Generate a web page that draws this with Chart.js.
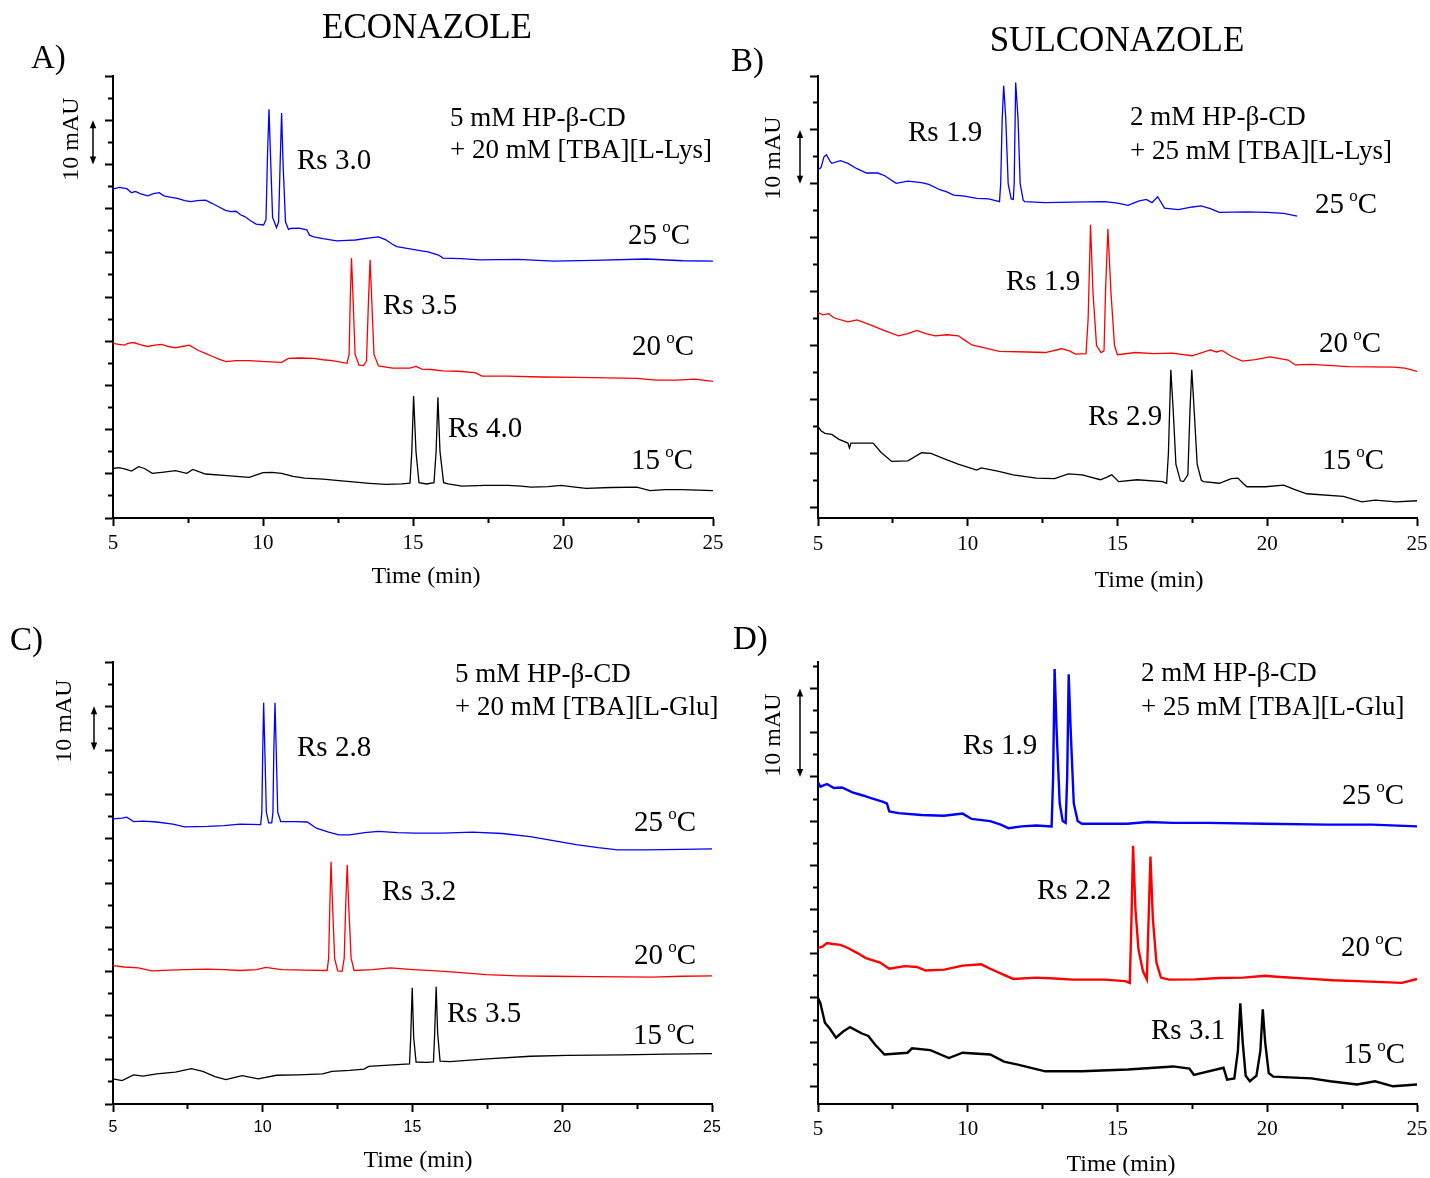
<!DOCTYPE html>
<html><head><meta charset="utf-8">
<script src="https://cdn.jsdelivr.net/npm/chart.js@4"></script>
<style>
html,body{margin:0;padding:0;background:#fff;}
#wrap{position:relative;width:1430px;height:1178px;overflow:hidden;background:#fff;}
canvas{position:absolute;}
</style></head><body>
<div id="wrap">
<canvas id="cA" width="730" height="600" style="left:0px;top:0px"></canvas>
<canvas id="cB" width="730" height="600" style="left:705px;top:0px"></canvas>
<canvas id="cC" width="730" height="600" style="left:0px;top:586px"></canvas>
<canvas id="cD" width="730" height="600" style="left:705px;top:586px"></canvas>
</div>
<script>
// ---------- tick values ----------
const xTicks = [5,7.5,10,12.5,15,17.5,20,22.5,25];
const yTicks100 = [0,5,10,15,20,25,30,35,40,45,50,55,60,65,70,75,80,85,90,95,100];
const yTicks80 = [0,5,10,15,20,25,30,35,40,45,50,55,60,65,70,75,80];
const yTicks48 = [0,2.5,5,7.5,10,12.5,15,17.5,20,22.5,25,27.5,30,32.5,35,37.5,40,42.5,45,47.5];
const xTitle = 'Time (min)';

// ---------- A) Econazole, [TBA][L-Lys] ----------
const econLys25 = [[5,74.4],[5.2,74.8],[5.46,74.5],[5.62,73.6],[5.75,73.9],[5.9,73.4],[6.16,72.9],[6.35,73.4],[6.54,73.6],[6.7,72.9],[6.9,72.6],[7.15,72.3],[7.39,71.8],[7.6,71.6],[7.8,71.8],[8.08,71.9],[8.3,71.2],[8.55,70.3],[8.75,69.6],[8.93,69.3],[9.1,69.4],[9.25,68.6],[9.39,68.2],[9.6,67.2],[9.77,66.5],[10.02,66.3],[10.1,67.5],[10.15,82],[10.2,92.5],[10.25,82],[10.32,68],[10.45,65.7],[10.52,67],[10.57,80],[10.62,91.6],[10.67,80],[10.75,67],[10.85,65.3],[10.92,65.5],[11.2,65.6],[11.46,65.2],[11.55,64.0],[11.69,63.6],[12.0,63.2],[12.46,62.7],[12.8,62.8],[13.08,62.9],[13.5,63.3],[13.85,63.6],[14.08,63.0],[14.3,62.0],[14.46,61.4],[14.8,61.0],[15.23,60.5],[15.5,60.2],[15.85,59.5],[16.0,58.8],[16.6,58.7],[17.23,58.4],[18.5,58.5],[19.69,58.1],[21.0,58.3],[22.77,58.6],[24.0,58.2],[25,58.1]];
const econLys20 = [[5,39.5],[5.2,39.3],[5.38,39.1],[5.5,39.5],[5.69,39.7],[5.9,39.2],[6.16,38.8],[6.4,39.1],[6.62,39.3],[6.85,38.8],[7.08,38.5],[7.3,38.8],[7.54,39.1],[7.85,37.9],[8.1,37.2],[8.3,36.6],[8.55,35.9],[8.77,35.4],[9.1,35.6],[9.54,35.6],[10.1,35.4],[10.62,35.2],[10.85,36.1],[11.2,36.2],[11.69,36.1],[12.0,35.8],[12.31,35.6],[12.8,35.0],[12.87,37],[12.91,50],[12.95,58.8],[13.0,50],[13.07,37],[13.2,34.6],[13.35,34.5],[13.45,35.5],[13.52,50],[13.57,58.4],[13.62,50],[13.7,37],[13.85,34.4],[14.31,33.9],[14.9,33.9],[15.1,34.3],[15.3,33.7],[15.6,33.6],[16.0,33.3],[16.5,33.2],[17.07,32.9],[17.3,32.1],[18.14,32.1],[19.3,31.9],[20.46,31.8],[21.5,31.7],[22.46,31.6],[23.1,31.2],[23.8,31.2],[24.4,31.4],[25,30.9]];
const econLys15 = [[5,11.2],[5.2,11.4],[5.38,11.1],[5.62,10.6],[5.85,11.6],[6.05,11.2],[6.31,10.1],[6.7,10.4],[7.08,10.7],[7.46,10.1],[7.66,11.0],[8.08,9.95],[8.8,9.6],[9.54,9.2],[10.0,10.25],[10.3,10.3],[10.62,10.1],[11.0,9.4],[11.39,9.0],[12.0,8.8],[12.62,8.4],[13.1,8.1],[13.54,7.85],[14.1,7.6],[14.62,7.7],[14.9,7.9],[14.96,15],[15.02,27.6],[15.1,15],[15.2,8],[15.45,7.7],[15.7,8],[15.77,15],[15.83,27.3],[15.9,15],[16.02,8],[16.17,7.7],[16.63,7.2],[17.4,7.4],[18.17,7.4],[18.6,7.2],[18.94,7.0],[19.5,7.1],[19.93,7.4],[20.4,7.0],[20.77,6.7],[21.6,6.9],[22.46,7.0],[22.9,6.2],[23.4,6.4],[23.97,6.4],[24.5,6.3],[25,6.2]];

// ---------- B) Sulconazole, [TBA][L-Lys] ----------
const sulcLys25 = [[5,62.6],[5.1,63],[5.2,65.0],[5.28,65.4],[5.4,64.2],[5.46,63.8],[5.75,64.3],[6.0,63.8],[6.3,62.8],[6.62,62.0],[7.0,62.0],[7.23,61.5],[7.61,60.1],[8.0,60.5],[8.45,60.2],[8.7,59.9],[9.07,58.9],[9.3,58.5],[9.53,57.9],[9.9,57.7],[10.3,57.3],[10.7,57.2],[11.06,56.7],[11.1,60],[11.15,72],[11.2,78.2],[11.27,72],[11.35,60],[11.45,57.2],[11.52,57.1],[11.55,60],[11.6,78.8],[11.68,72],[11.75,60],[11.85,57],[11.9,56.7],[12.59,56.5],[13.5,56.6],[14.58,56.7],[15.0,56.4],[15.35,56.0],[15.7,56.8],[15.96,57.1],[16.15,56.5],[16.34,57.6],[16.57,55.5],[17.03,55.2],[17.5,55.7],[17.79,55.9],[18.1,55.4],[18.4,54.7],[19.32,54.8],[20.0,54.7],[20.55,54.5],[21.0,54.0]];
const sulcLys20 = [[5,36.1],[5.17,35.7],[5.35,35.9],[5.55,35.1],[6.0,34.4],[6.3,34.75],[6.77,33.8],[7.2,32.8],[7.69,31.8],[8.0,32.2],[8.3,32.8],[8.6,32.2],[8.92,31.8],[9.3,32.0],[9.69,31.8],[9.9,31.0],[10.14,30.1],[10.6,29.5],[11.06,28.9],[12.0,28.8],[12.59,28.7],[13.13,29.4],[13.4,29.0],[13.59,28.4],[13.95,28.5],[14.02,35],[14.1,52.4],[14.18,40],[14.3,30],[14.45,28.7],[14.55,29],[14.6,40],[14.68,51.6],[14.78,40],[14.9,30],[15.0,28.3],[15.6,28.7],[16.2,28.5],[16.83,28.6],[17.49,28.1],[18.1,29.2],[18.3,28.8],[18.49,29.1],[18.8,28.0],[19.17,27.1],[19.6,27.4],[20.09,27.9],[20.7,27.3],[20.94,26.4],[21.47,26.5],[22.7,26.1],[24.2,26.0],[24.6,25.8],[25,25.2]];
const sulcLys15 = [[5,15.0],[5.1,14.2],[5.23,13.7],[5.46,13.5],[5.7,12.6],[6.0,11.9],[6.05,11.0],[6.1,11.9],[6.3,11.9],[6.84,11.9],[7.1,10.2],[7.46,8.5],[8.0,8.6],[8.46,10.1],[8.77,10.0],[9.2,9.0],[9.68,8.0],[10.3,6.9],[10.45,7.3],[11.0,6.7],[11.52,6.0],[12.29,5.4],[12.9,5.3],[13.36,6.2],[13.82,6.0],[14.43,5.1],[14.65,5.6],[14.81,6.0],[15.04,4.75],[15.66,5.1],[16.5,4.75],[16.64,4.45],[16.7,10],[16.78,25.5],[16.86,18],[16.95,8],[17.1,4.9],[17.2,4.75],[17.35,6],[17.42,18],[17.48,25.5],[17.56,18],[17.66,8],[17.8,5],[17.87,4.75],[18.4,4.45],[18.8,5.3],[19.02,5.4],[19.2,4.4],[19.32,3.8],[19.94,3.8],[20.55,4.1],[20.9,3.3],[21.32,2.5],[22.54,2.0],[23.16,1.0],[23.6,1.3],[24.3,1.0],[25,1.2]];

// ---------- C) Econazole, [TBA][L-Glu] ----------
const econGlu25 = [[5,64.5],[5.3,64.7],[5.46,64.9],[5.69,63.9],[6.0,64.0],[6.46,63.8],[7.0,63.3],[7.39,62.7],[8.16,62.8],[8.7,63.0],[9.24,63.3],[9.93,63.2],[9.97,66],[10.0,80],[10.03,90.8],[10.07,80],[10.12,66],[10.2,63.6],[10.3,63.6],[10.34,66],[10.37,80],[10.41,90.8],[10.45,80],[10.5,66],[10.6,63.9],[11.1,63.9],[11.49,63.8],[11.79,62.4],[12.2,61.5],[12.54,60.9],[12.9,60.9],[13.4,61.4],[13.86,61.7],[14.5,61.4],[15.09,61.3],[16.0,61.3],[17.0,61.5],[18.0,61.2],[18.93,60.5],[19.7,59.6],[20.46,58.7],[21.2,58.0],[21.85,57.5],[22.77,57.5],[24.0,57.6],[25,57.7]];
const econGlu20 = [[5,31.3],[5.38,31.0],[5.85,30.8],[6.3,30.1],[6.9,30.3],[7.39,30.4],[8.16,30.5],[8.7,30.4],[9.24,30.2],[9.8,30.4],[10.1,30.9],[10.63,30.4],[11.4,30.3],[12.15,30.2],[12.2,33],[12.24,45],[12.28,54.8],[12.33,45],[12.4,33],[12.5,30.1],[12.65,30.0],[12.72,33],[12.77,45],[12.82,54.1],[12.87,45],[12.95,33],[13.05,30.2],[13.66,30.4],[14.26,30.8],[15.03,30.4],[15.8,30.1],[16.52,29.8],[17.46,29.25],[18.5,29.0],[19.6,28.9],[21.1,28.8],[23,28.7],[24.0,28.9],[25,29.0]];
const econGlu15 = [[5,5.7],[5.3,5.3],[5.69,6.6],[6.0,6.3],[6.46,6.8],[7.08,7.2],[7.62,8.0],[8.0,7.4],[8.4,6.2],[8.77,5.5],[9.31,6.4],[9.85,5.7],[10.46,6.5],[11.2,6.6],[12.0,6.8],[12.31,7.4],[12.9,7.6],[13.38,7.9],[13.54,8.5],[14.2,8.8],[14.9,9.1],[14.94,15],[14.99,26.3],[15.04,15],[15.12,9.5],[15.46,9.4],[15.7,9.5],[15.74,16],[15.79,26.5],[15.84,16],[15.92,9.7],[16.25,9.6],[17.5,10.2],[18.94,10.8],[20.17,11.0],[22.0,11.1],[23.5,11.3],[25,11.4]];

// ---------- D) Sulconazole, [TBA][L-Glu] ----------
const sulcGlu25 = [[5,34.4],[5.08,33.9],[5.3,34.2],[5.53,33.75],[5.8,33.8],[6.15,33.25],[6.5,32.9],[6.77,32.6],[7.15,32.2],[7.3,32.0],[7.38,31.1],[7.69,30.9],[8.45,30.7],[9.2,30.6],[9.83,30.85],[10.13,30.25],[10.75,30.0],[11.1,29.6],[11.36,29.2],[11.8,29.4],[12.28,29.5],[12.8,29.4],[12.85,35],[12.9,47.2],[12.97,40],[13.07,32],[13.17,30],[13.27,29.8],[13.32,35],[13.37,46.6],[13.44,40],[13.54,32],[13.67,30],[13.81,29.7],[14.5,29.7],[15.33,29.7],[16.0,29.9],[16.86,29.8],[18.0,29.8],[19.9,29.7],[22.0,29.6],[23.5,29.6],[25,29.4]];
const sulcGlu20 = [[5,15.65],[5.15,15.8],[5.3,16.2],[5.5,16.1],[5.75,16.0],[6.0,15.65],[6.3,15.1],[6.6,14.5],[7.07,14.0],[7.38,13.3],[7.9,13.6],[8.3,13.5],[8.6,13.1],[9.22,13.2],[9.83,13.65],[10.45,13.8],[10.75,13.3],[11.21,12.6],[11.52,12.15],[12.28,12.3],[12.9,12.2],[13.5,12.07],[14.57,12.07],[15.26,11.9],[15.41,11.7],[15.46,18],[15.52,27.2],[15.6,20],[15.7,15.5],[15.85,13],[15.98,12.1],[16.03,18],[16.1,26.0],[16.18,19],[16.3,14],[16.45,12.3],[16.72,12.07],[17.6,12.1],[18.4,12.25],[19.2,12.3],[19.94,12.5],[20.3,12.4],[21.47,12.15],[22.2,12.0],[23.0,11.9],[24.5,11.7],[25,12.15]];
const sulcGlu15 = [[5,10.0],[5.08,9.4],[5.23,7.2],[5.38,6.6],[5.6,5.5],[5.84,6.2],[6.07,6.7],[6.45,6.0],[6.68,5.7],[6.91,4.7],[7.22,3.6],[7.99,3.8],[8.14,4.3],[8.75,4.1],[9.37,3.2],[9.83,3.8],[10.75,3.6],[11.21,2.8],[11.67,2.45],[12.59,1.7],[13.81,1.7],[15.34,1.9],[16.86,2.25],[17.4,2.0],[17.55,1.3],[18.54,2.1],[18.66,0.76],[18.9,0.9],[19.02,4],[19.1,9.4],[19.18,5],[19.28,1.2],[19.42,0.57],[19.64,1.2],[19.77,4],[19.85,8.7],[19.93,5],[20.05,1.5],[20.2,1.1],[21.47,0.9],[22.1,0.57],[23.0,0.2],[23.6,0.57],[24.2,0.0],[25,0.2]];

const SERIF = "'Liberation Serif','Times New Roman',serif";
const SANS = "'Liberation Sans',Arial,sans-serif";
const COLORS = ['#0000ff', '#ff0000', '#000000'];

const panels = [
  { id:'cA', ox:0, oy:0, yMin:0, yMax:100, yTicks:yTicks100, majorStep:10, series:[econLys25,econLys20,econLys15],
    lw:1.3, padRight:17, tickFont:{family:SERIF,size:21}, tickPad:5, title:{x:426, y:577},
    texts:[
      {t:'ECONAZOLE', x:427, y:29, s:35, a:'center'},
      {t:'A)', x:31, y:59, s:33},
      {t:'5 mM HP-\u03B2-CD', x:450, y:119, s:27},
      {t:'+ 20 mM [TBA][L-Lys]', x:450, y:151, s:27},
      {t:'Rs 3.0', x:297, y:161, s:29},
      {t:'Rs 3.5', x:383, y:306, s:29},
      {t:'Rs 4.0', x:448, y:429, s:29}],
    temps:[{n:'25', x:628, y:236},{n:'20', x:632, y:347},{n:'15', x:631, y:461}],
    mau:{x:72, y:139}, arrow:{x:93, from:90, to:80} },
  { id:'cB', ox:705, oy:0, yMin:-2, yMax:80, yTicks:yTicks80, majorStep:10, series:[sulcLys25,sulcLys20,sulcLys15],
    lw:1.3, padRight:18, tickFont:{family:SERIF,size:21}, tickPad:6, title:{x:1149, y:581},
    texts:[
      {t:'SULCONAZOLE', x:1117, y:42, s:35, a:'center'},
      {t:'B)', x:731, y:62, s:33},
      {t:'2 mM HP-\u03B2-CD', x:1130, y:118, s:27},
      {t:'+ 25 mM [TBA][L-Lys]', x:1130, y:152, s:27},
      {t:'Rs 1.9', x:908, y:133, s:29},
      {t:'Rs 1.9', x:1006, y:282, s:29},
      {t:'Rs 2.9', x:1088, y:417, s:29}],
    temps:[{n:'25', x:1315, y:205},{n:'20', x:1319, y:344},{n:'15', x:1322, y:461}],
    mau:{x:774, y:158}, arrow:{x:800, from:70, to:60} },
  { id:'cC', ox:0, oy:586, yMin:0, yMax:100, yTicks:yTicks100, majorStep:10, series:[econGlu25,econGlu20,econGlu15],
    lw:1.3, padRight:18, tickFont:{family:SANS,size:16}, tickPad:6, title:{x:418, y:1161},
    texts:[
      {t:'C)', x:10, y:641, s:33},
      {t:'5 mM HP-\u03B2-CD', x:455, y:675, s:27},
      {t:'+ 20 mM [TBA][L-Glu]', x:455, y:708, s:27},
      {t:'Rs 2.8', x:297, y:748, s:29},
      {t:'Rs 3.2', x:382, y:892, s:29},
      {t:'Rs 3.5', x:447, y:1014, s:29}],
    temps:[{n:'25', x:634, y:823},{n:'20', x:634, y:956},{n:'15', x:633, y:1036}],
    mau:{x:65, y:721}, arrow:{x:94, from:90, to:80} },
  { id:'cD', ox:705, oy:586, yMin:-2, yMax:48, yTicks:yTicks48, majorStep:5, series:[sulcGlu25,sulcGlu20,sulcGlu15],
    lw:2.4, padRight:18, tickFont:{family:SERIF,size:21}, tickPad:5, title:{x:1121, y:1165},
    texts:[
      {t:'D)', x:733, y:640, s:33},
      {t:'2 mM HP-\u03B2-CD', x:1141, y:674, s:27},
      {t:'+ 25 mM [TBA][L-Glu]', x:1141, y:708, s:27},
      {t:'Rs 1.9', x:963, y:746, s:29},
      {t:'Rs 2.2', x:1037, y:891, s:29},
      {t:'Rs 3.1', x:1151, y:1031, s:29}],
    temps:[{n:'25', x:1342, y:796},{n:'20', x:1341, y:948},{n:'15', x:1343, y:1055}],
    mau:{x:774, y:735}, arrow:{x:800, from:45, to:35} }
];

function isMultiple(v, step) { return Math.abs(v / step - Math.round(v / step)) < 1e-6; }

function makeAnnot(p) {
  return {
    id: 'annot_' + p.id,
    afterDraw(chart) {
      const ctx = chart.ctx;
      ctx.save();
      ctx.fillStyle = '#000';
      ctx.strokeStyle = '#000';
      ctx.textBaseline = 'middle';
      p.texts.forEach(o => {
        ctx.font = o.s + 'px ' + SERIF;
        ctx.textAlign = o.a || 'left';
        ctx.fillText(o.t, o.x - p.ox, o.y - p.oy);
      });
      // x-axis title
      ctx.font = '24px ' + SERIF;
      ctx.textAlign = 'center';
      ctx.fillText(xTitle, p.title.x - p.ox, p.title.y - p.oy);
      ctx.textAlign = 'left';
      p.temps.forEach(o => {
        const x = o.x - p.ox, y = o.y - p.oy;
        ctx.font = '29px ' + SERIF;
        const s1 = o.n + ' ';
        ctx.fillText(s1, x, y);
        const w1 = ctx.measureText(s1).width;
        ctx.font = '17px ' + SERIF;
        const xo = x + w1 - 2;
        ctx.fillText('o', xo, y - 8);
        const wo = ctx.measureText('o').width;
        ctx.font = '29px ' + SERIF;
        ctx.fillText('C', xo + wo, y);
      });
      // 10 mAU label
      ctx.save();
      ctx.translate(p.mau.x - p.ox, p.mau.y - p.oy);
      ctx.rotate(-Math.PI / 2);
      ctx.font = '24px ' + SERIF;
      ctx.textAlign = 'center';
      ctx.fillText('10 mAU', 0, 0);
      ctx.restore();
      // scale-bar arrow (10 mAU, through the y scale)
      const ys = chart.scales.y;
      const ax = p.arrow.x - p.ox;
      const yt = ys.getPixelForValue(p.arrow.from);
      const yb = ys.getPixelForValue(p.arrow.to);
      const hl = 8, hw = 3.2;
      ctx.lineWidth = 1.5;
      ctx.beginPath();
      ctx.moveTo(ax, yt + hl - 1);
      ctx.lineTo(ax, yb - hl + 1);
      ctx.stroke();
      ctx.beginPath();
      ctx.moveTo(ax, yt); ctx.lineTo(ax - hw, yt + hl); ctx.lineTo(ax + hw, yt + hl); ctx.closePath();
      ctx.fill();
      ctx.beginPath();
      ctx.moveTo(ax, yb); ctx.lineTo(ax - hw, yb - hl); ctx.lineTo(ax + hw, yb - hl); ctx.closePath();
      ctx.fill();
      ctx.restore();
    }
  };
}

panels.forEach(p => {
  const datasets = p.series.map((s, i) => ({
    data: s.map(pt => ({ x: pt[0], y: pt[1] })),
    borderColor: COLORS[i],
    borderWidth: p.lw,
    pointRadius: 0,
    tension: 0,
    fill: false
  }));
  new Chart(document.getElementById(p.id), {
    type: 'line',
    data: { datasets },
    options: {
      responsive: false,
      animation: false,
      devicePixelRatio: 1,
      events: [],
      layout: { padding: { left: 93, top: 76, right: p.padRight, bottom: 0 } },
      plugins: { legend: { display: false }, tooltip: { enabled: false } },
      scales: {
        x: {
          type: 'linear', position: 'bottom', min: 5, max: 25,
          afterBuildTicks: s => { s.ticks = xTicks.map(v => ({ value: v })); },
          afterFit: s => { s.height = 82; },
          border: { display: true, color: '#000', width: 2 },
          grid: {
            display: true, drawOnChartArea: false, drawTicks: true, tickLength: 8,
            tickColor: '#000', tickWidth: 2,
            tickBorderDash: c => (c.tick && !isMultiple(c.tick.value, 5)) ? [4, 40] : []
          },
          ticks: {
            autoSkip: false, maxRotation: 0, minRotation: 0, color: '#000',
            font: p.tickFont, padding: p.tickPad,
            callback: v => isMultiple(v, 5) ? String(v) : ''
          },
          title: { display: false }
        },
        y: {
          type: 'linear', position: 'left', min: p.yMin, max: p.yMax,
          afterBuildTicks: s => { s.ticks = p.yTicks.map(v => ({ value: v })); },
          afterFit: s => { s.width = 20; },
          border: { display: true, color: '#000', width: 2 },
          grid: {
            display: true, drawOnChartArea: false, drawTicks: true, tickLength: 8,
            tickColor: '#000', tickWidth: 2,
            tickBorderDash: c => (c.tick && !isMultiple(c.tick.value, p.majorStep)) ? [4, 3] : [],
            tickBorderDashOffset: c => (c.tick && !isMultiple(c.tick.value, p.majorStep)) ? 4 : 0
          },
          ticks: { display: false }
        }
      }
    },
    plugins: [makeAnnot(p)]
  });
});
</script>
</body></html>
